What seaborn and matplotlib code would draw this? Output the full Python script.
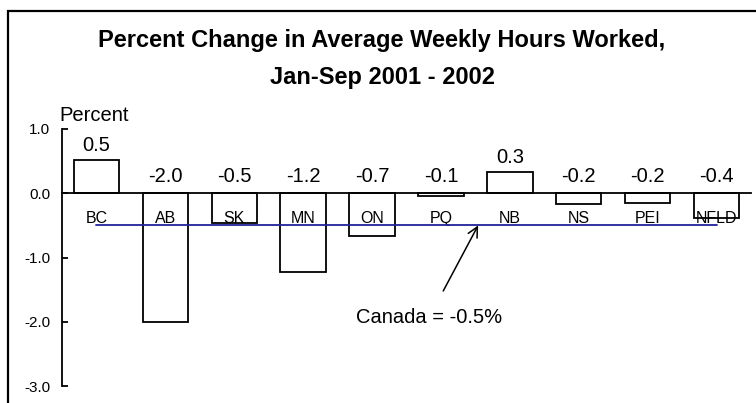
import seaborn as sns
import matplotlib.pyplot as plt
import matplotlib.patches as mpatches
import pandas as pd

sns.set_theme(style="white")
plt.rcParams['font.family'] = ['Liberation Sans', 'DejaVu Sans']
plt.rcParams['text.color'] = 'black'

# Data
provinces = ['BC', 'AB', 'SK', 'MN', 'ON', 'PQ', 'NB', 'NS', 'PEI', 'NFLD']
change = [0.51, -2.0, -0.47, -1.22, -0.66, -0.05, 0.33, -0.17, -0.15, -0.39]
labels = ['0.5', '-2.0', '-0.5', '-1.2', '-0.7', '-0.1', '0.3', '-0.2', '-0.2', '-0.4']
canada = -0.5

df = pd.DataFrame({'prov': provinces, 'change': change})

fig = plt.figure(figsize=(7.56, 4.03), dpi=100)
ax = fig.add_axes([62/756, 17/403, 689/756, 257/403])

sns.barplot(data=df, x='prov', y='change', color='white', edgecolor='black',
            linewidth=1.3, width=0.66, ax=ax)
ax.set_axisbelow(False)

# value labels
for i, (v, lab) in enumerate(zip(change, labels)):
    y = v + 0.14 if v > 0 else 0.17
    ax.text(i, y, lab, ha='center', va='baseline', fontsize=14.5, color='black')

# Canada average line
ax.plot([0, len(provinces) - 1], [canada, canada], color='#22229a', lw=1.3, zorder=5)
ax.annotate('Canada = -0.5%', xy=(5.54, canada), xytext=(4.83, -1.93),
            ha='center', va='center', fontsize=14.5, color='black',
            arrowprops=dict(arrowstyle='->', color='black', lw=1.1,
                            shrinkA=11, shrinkB=0, mutation_scale=18))

ax.set_ylim(-3, 1)
ax.set_xlim(-0.5, len(provinces) - 0.5)
ax.set_yticks([1, 0, -1, -2, -3])
ax.set_yticklabels(['1.0', '0.0', '-1.0', '-2.0', '-3.0'], fontsize=11)
ax.set_xlabel('')
ax.set_ylabel('')

for s in ['top', 'right']:
    ax.spines[s].set_visible(False)
ax.spines['left'].set_color('black')
ax.spines['left'].set_linewidth(1.3)
ax.spines['bottom'].set_position(('data', 0))
ax.spines['bottom'].set_color('black')
ax.spines['bottom'].set_linewidth(1.3)
ax.tick_params(axis='y', direction='in', length=4, width=1.3, color='black',
               left=True, pad=8.5, labelcolor='black')
ax.tick_params(axis='x', length=0, pad=13, labelsize=11.5, labelcolor='black')

fig.text(59/756, 1 - 121/403, 'Percent', fontsize=14.5, ha='left', va='baseline',
         color='black')

fig.text(382/756, 1 - 47/403, 'Percent Change in Average Weekly Hours Worked,',
         fontsize=17, fontweight='bold', ha='center', va='baseline', color='black')
fig.text(382/756, 1 - 84/403, 'Jan-Sep 2001 - 2002',
         fontsize=17, fontweight='bold', ha='center', va='baseline', color='black')

# outer frame
fig.patches.append(mpatches.Rectangle((8/756, -0.05), 1.0, 1 - 11/403 + 0.05,
                                      transform=fig.transFigure, fill=False,
                                      edgecolor='black', lw=1.6))

fig.savefig('out.png', dpi=100)
